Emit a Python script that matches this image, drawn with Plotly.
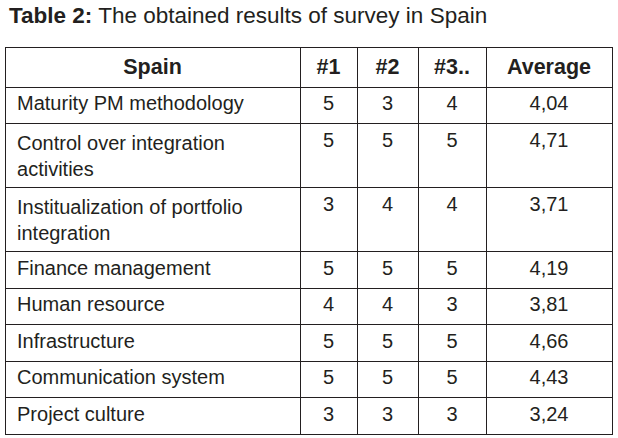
import plotly.graph_objects as go

W, H = 618, 438

header = ["Spain", "#1", "#2", "#3..", "Average"]
criteria = [
    "Maturity PM methodology",
    "Control over integration<br>activities",
    "Institualization of portfolio<br>integration",
    "Finance management",
    "Human resource",
    "Infrastructure",
    "Communication system",
    "Project culture",
]
score1 = [5, 5, 3, 5, 4, 5, 5, 3]
score2 = [3, 5, 4, 5, 4, 5, 5, 3]
score3 = [4, 5, 4, 5, 3, 5, 5, 3]
average = ["4,04", "4,71", "3,71", "4,19", "3,81", "4,66", "4,43", "3,24"]

col_widths = [295, 57, 61, 68, 126]
ink = "#231f20"
font_family = "Liberation Sans, Arial, sans-serif"

indent = "\u2009"
criteria_cells = [indent + c.replace("<br>", "<br>" + indent) for c in criteria]

fig = go.Figure(go.Table(
    columnwidth=col_widths,
    domain=dict(x=[5 / W, 612 / W], y=[0, 1 - 47 / H]),
    header=dict(
        values=["<b>%s</b>" % h for h in header],
        align="center",
        height=37,
        font=dict(family=font_family, size=21.5, color=ink),
        fill_color="white",
        line=dict(color=ink, width=1),
    ),
    cells=dict(
        values=[criteria_cells, score1, score2, score3, average],
        align=["left", "center", "center", "center", "center"],
        height=36.5,
        font=dict(family=font_family, size=20, color=ink),
        fill_color="white",
        line=dict(color=ink, width=1),
    ),
))

fig.add_annotation(
    text="<b>Table 2:</b> The obtained results of survey in Spain",
    xref="paper", yref="paper", x=7 / W, y=1 - 15 / H,
    xanchor="left", yanchor="middle", showarrow=False,
    font=dict(family=font_family, size=22.5, color=ink),
)

fig.update_layout(
    width=W, height=H,
    margin=dict(l=0, r=0, t=0, b=0),
    paper_bgcolor="white", plot_bgcolor="white",
)

fig.write_html("out.html", config={"displayModeBar": False},
               post_script="document.body.style.margin='0';")
